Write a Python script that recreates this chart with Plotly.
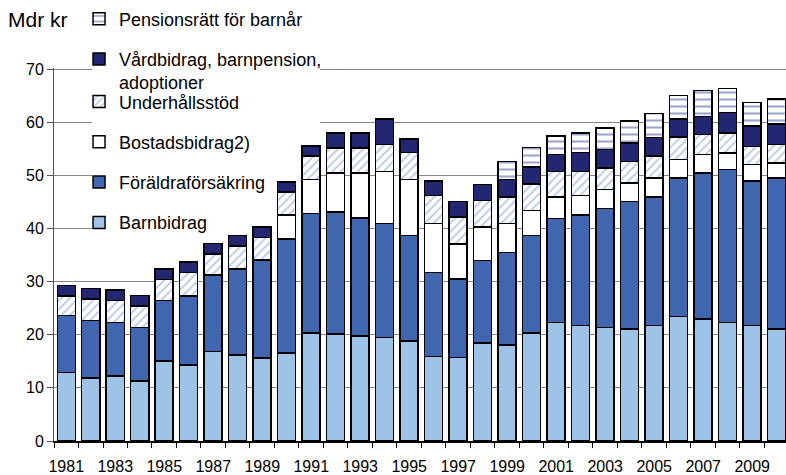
import plotly.graph_objects as go

years = [str(y) for y in range(1981, 2011)]
tick_labels = [y if int(y) % 2 == 1 else "" for y in years]

barnbidrag = [12.85, 11.85, 12.2, 11.3, 15.1, 14.35, 16.85, 16.2, 15.6, 16.6,
              20.3, 20.1, 19.8, 19.5, 18.85, 15.9, 15.7, 18.4, 18.1, 20.3,
              22.3, 21.7, 21.4, 21.1, 21.7, 23.4, 23.0, 22.3, 21.7, 21.05]
foraldra = [10.75, 10.85, 10.1, 10.1, 11.3, 12.95, 14.35, 16.2, 18.45, 21.4,
            22.5, 23.0, 22.2, 21.4, 19.85, 15.8, 14.8, 15.6, 17.4, 18.4,
            19.6, 20.8, 22.35, 24.0, 24.2, 26.1, 27.4, 28.8, 27.2, 28.45]
bostad = [0, 0, 0, 0, 0, 0, 0, 0, 0, 4.5,
          6.4, 7.3, 8.4, 9.85, 10.5, 9.2, 6.55, 6.3, 5.4, 4.7,
          4.0, 3.75, 3.55, 3.5, 3.6, 3.5, 3.5, 3.1, 3.1, 2.8]
underhall = [3.7, 4.0, 4.1, 4.0, 4.0, 4.4, 4.0, 4.3, 4.25, 4.4,
             4.4, 4.7, 4.7, 5.05, 5.1, 5.3, 5.15, 5.0, 5.0, 5.0,
             4.85, 4.5, 4.1, 4.0, 4.1, 4.2, 3.8, 3.8, 3.4, 3.5]
vardbidrag = [2.0, 2.0, 2.0, 2.0, 2.0, 2.0, 2.0, 2.0, 2.0, 1.8,
              1.9, 2.9, 2.9, 4.8, 2.5, 2.7, 2.9, 2.95, 3.3, 3.2,
              3.15, 3.55, 3.5, 3.5, 3.5, 3.4, 3.4, 3.8, 3.85, 3.9]
pension = [0, 0, 0, 0, 0, 0, 0, 0, 0, 0,
           0, 0, 0, 0, 0, 0, 0, 0, 3.4, 3.6,
           3.5, 3.7, 4.0, 4.1, 4.5, 4.4, 4.85, 4.5, 4.5, 4.7]

names = ["Barnbidrag", "Föräldraförsäkring", "Bostadsbidrag2)", "Underhållsstöd",
         "Vårdbidrag, barnpension,<br>adoptioner", "Pensionsrätt för barnår"]

FONT = "Liberation Sans, Arial, sans-serif"
line = dict(color="black", width=1.5)

fig = go.Figure()
fig.add_bar(x=years, y=barnbidrag, name=names[0], legend="legend2", legendgroup="a",
            legendrank=6, marker=dict(color="#9DC3E6", line=line))
fig.add_bar(x=years, y=foraldra, name=names[1], legend="legend2", legendgroup="b",
            legendrank=5, marker=dict(color="#4166B0", line=line))
fig.add_bar(x=years, y=bostad, name=names[2], legend="legend2", legendgroup="c",
            legendrank=4, marker=dict(color="white", line=line))
fig.add_bar(x=years, y=underhall, name=names[3], legend="legend2", legendgroup="d",
            legendrank=3,
            marker=dict(color="white", line=line,
                        pattern=dict(shape="/", fgcolor="#7F9CD6", bgcolor="white",
                                     size=6, solidity=0.35)))
fig.add_bar(x=years, y=vardbidrag, name=names[4], legend="legend", legendgroup="e",
            legendrank=2, marker=dict(color="#232670", line=line))
fig.add_bar(x=years, y=pension, name=names[5], legend="legend", legendgroup="f",
            legendrank=1,
            marker=dict(color="white", line=line,
                        pattern=dict(shape="-", fgcolor="#3B4A9E", bgcolor="white",
                                     size=7, solidity=0.3)))

# white box behind legend (between gridlines and bars)
fig.add_shape(type="rect", xref="x", yref="y", x0=1.05, x1=10.36, y0=38.8, y1=71,
              fillcolor="white", line=dict(width=0), layer="between")

fig.add_annotation(text="Mdr kr", xref="paper", yref="paper", x=-0.065, y=1.1287,
                   xanchor="left", yanchor="middle", showarrow=False,
                   font=dict(family=FONT, size=21, color="black"))

legend_common = dict(x=0.0342, xanchor="left", yanchor="top",
                     bgcolor="rgba(0,0,0,0)", borderwidth=0,
                     font=dict(family=FONT, size=18, color="black"),
                     traceorder="grouped", tracegroupgap=13.9,
                     valign="top")

fig.update_layout(
    width=786, height=475,
    margin=dict(l=54, r=0, t=68, b=34, autoexpand=False),
    barmode="stack", bargap=0.265,
    plot_bgcolor="white", paper_bgcolor="white",
    font=dict(family=FONT, size=16, color="black"),
    showlegend=True,
    legend=dict(y=1.181, **legend_common),
    legend2=dict(y=0.9590, **legend_common),
    xaxis=dict(type="category", tickmode="array", tickvals=years, ticktext=tick_labels,
               tickson="boundaries", ticks="outside", ticklen=5, tickcolor="black",
               tickwidth=1, showgrid=False, showline=True, linecolor="black",
               linewidth=2, range=[-0.5, 29.38], tickangle=0, ticklabelstandoff=10,
               automargin=False,
               tickfont=dict(family=FONT, size=16, color="black")),
    yaxis=dict(range=[0, 70.2], tickmode="array", tickvals=[0, 10, 20, 30, 40, 50, 60, 70],
               showgrid=True, gridcolor="#868686", gridwidth=1, zeroline=False,
               showline=True, linecolor="#555555", linewidth=1, automargin=False,
               ticks="outside", ticklen=6, tickcolor="#555555",
               tickfont=dict(family=FONT, size=16, color="black")),
)

fig.write_html("out.html",
               config={"displayModeBar": False},
               post_script="document.body.style.margin='0';document.body.style.overflow='hidden';")
